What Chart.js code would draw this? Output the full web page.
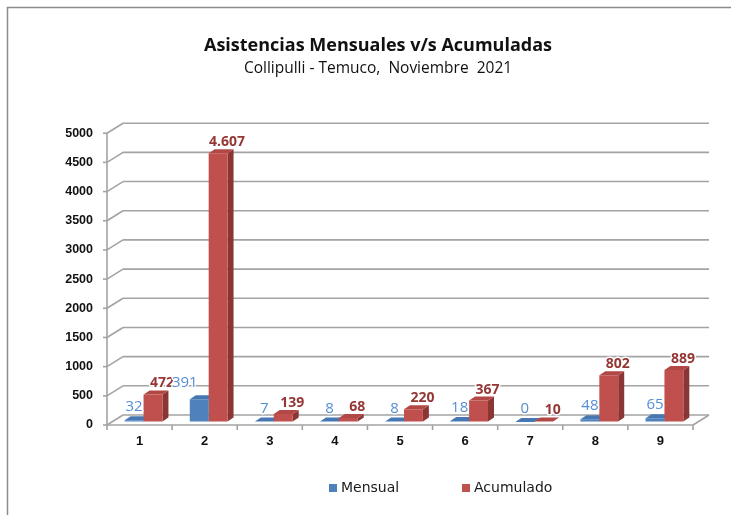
<!DOCTYPE html>
<html>
<head>
<meta charset="utf-8">
<script src="https://cdn.jsdelivr.net/npm/chart.js@4.4.0/dist/chart.umd.min.js"></script>
<style>
  html, body { margin: 0; padding: 0; background: #fff; }
</style>
</head>
<body>
<canvas id="asistencias" width="731" height="515"></canvas>
<script>
// Data
const categories = ['1', '2', '3', '4', '5', '6', '7', '8', '9'];
const mensual = [32, 391, 7, 8, 8, 18, 0, 48, 65];
const acumulado = [472, 4607, 139, 68, 220, 367, 10, 802, 889];
const yTicks = [0, 500, 1000, 1500, 2000, 2500, 3000, 3500, 4000, 4500, 5000];

// 3D look offsets (relative to the plane the bars are drawn in)
const FRONT = { dx: -4, dy: 3 };
const BACK = { dx: 12, dy: -7 };
const DEPTH = { dx: 6, dy: -4 };

const colors = {
    mensual: { face: '#4F81BD', side: '#36598A', top: '#4677B3', label: '#558ED5' },
    acumulado: { face: '#C0504D', side: '#8B3634', top: '#B24845', label: '#953735' }
};

// thousands with a dot, like 4.607
function fmt(v) {
    return String(v).replace(/\B(?=(\d{3})+(?!\d))/g, '.');
}

function line(ctx, x1, y1, x2, y2) {
    ctx.beginPath();
    ctx.moveTo(x1, y1);
    ctx.lineTo(x2, y2);
    ctx.stroke();
}

const threeD = {
    id: 'threeD',
    beforeDraw(chart) {
        const ctx = chart.ctx;
        ctx.save();
        ctx.fillStyle = '#fff';
        ctx.fillRect(0, 0, chart.width, chart.height);
        // outer frame of the chart object
        ctx.strokeStyle = '#8c8c8c';
        ctx.lineWidth = 1.5;
        ctx.strokeRect(7.5, 7.5, chart.width + 20, chart.height + 20);
        ctx.restore();
    },
    beforeDatasetsDraw(chart) {
        const ctx = chart.ctx;
        const { left, right } = chart.chartArea;
        const y = chart.scales.y;
        const x = chart.scales.x;
        ctx.save();
        ctx.strokeStyle = '#a3a3a3';
        ctx.lineWidth = 1.6;
        // back wall grid + side wall diagonals + ticks
        yTicks.forEach(v => {
            const py = y.getPixelForValue(v);
            const fx = left + FRONT.dx, fy = py + FRONT.dy;
            const bx = left + BACK.dx, by = py + BACK.dy;
            line(ctx, fx, fy, bx, by);
            line(ctx, bx, by, right + BACK.dx, by);
            line(ctx, fx - 4, fy, fx, fy);
        });
        const yTop = y.getPixelForValue(yTicks[yTicks.length - 1]);
        const y0 = y.getPixelForValue(0);
        // front vertical axis
        line(ctx, left + FRONT.dx, yTop + FRONT.dy, left + FRONT.dx, y0 + FRONT.dy);
        // floor: front edge and right edge
        line(ctx, left + FRONT.dx, y0 + FRONT.dy, right + FRONT.dx, y0 + FRONT.dy);
        line(ctx, right + FRONT.dx, y0 + FRONT.dy, right + BACK.dx, y0 + BACK.dy);
        // category tick marks on the floor edge
        const cw = x.width / categories.length;
        for (let i = 0; i <= categories.length; i++) {
            const px = x.left + i * cw + FRONT.dx;
            line(ctx, px, y0 + FRONT.dy, px, y0 + FRONT.dy + 5);
        }

        // side and top faces of every bar (front faces are drawn by Chart.js on top)
        chart.data.datasets.forEach((ds, di) => {
            const meta = chart.getDatasetMeta(di);
            const c = ds.key === 'mensual' ? colors.mensual : colors.acumulado;
            meta.data.forEach(bar => {
                const { x: bx, y: by, base, width } = bar.getProps(['x', 'y', 'base', 'width'], true);
                const l = bx - width / 2, r = bx + width / 2;
                ctx.fillStyle = c.side;
                ctx.beginPath();
                ctx.moveTo(r, by);
                ctx.lineTo(r + DEPTH.dx, by + DEPTH.dy);
                ctx.lineTo(r + DEPTH.dx, base + DEPTH.dy);
                ctx.lineTo(r, base);
                ctx.closePath();
                ctx.fill();
                ctx.fillStyle = c.top;
                ctx.beginPath();
                ctx.moveTo(l, by);
                ctx.lineTo(l + DEPTH.dx, by + DEPTH.dy);
                ctx.lineTo(r + DEPTH.dx, by + DEPTH.dy);
                ctx.lineTo(r, by);
                ctx.closePath();
                ctx.fill();
            });
        });
        ctx.restore();
    },
    afterDatasetsDraw(chart) {
        const ctx = chart.ctx;
        const metaM = chart.getDatasetMeta(0);
        const metaA = chart.getDatasetMeta(1);
        ctx.save();
        ctx.textAlign = 'center';
        ctx.textBaseline = 'middle';
        ctx.lineJoin = 'round';
        // Acumulado labels
        ctx.font = 'bold 14px "Open Sans"';
        metaA.data.forEach((bar, i) => {
            const t = fmt(acumulado[i]);
            const lx = bar.x + 9, ly = bar.y + DEPTH.dy / 2 - 9;
            ctx.strokeStyle = 'rgba(255,255,255,0.9)';
            ctx.lineWidth = 3;
            ctx.strokeText(t, lx, ly);
            ctx.fillStyle = colors.acumulado.label;
            ctx.fillText(t, lx, ly);
        });
        // Mensual labels, kept clear of the taller red bar next to them
        ctx.font = '15px "Open Sans"';
        metaM.data.forEach((bar, i) => {
            const t = fmt(mensual[i]);
            const w = ctx.measureText(t).width;
            let lx = bar.x,
                ly = bar.y + DEPTH.dy / 2 - 11;
            const red = metaA.data[i];
            const redLeft = red.x - red.width / 2;
            if (red.y < ly + 8 && lx + w / 2 > redLeft + 3) {
                lx = redLeft - 11 - w / 2;
                ly -= 3;
            }
            ctx.strokeStyle = 'rgba(255,255,255,0.9)';
            ctx.lineWidth = 3;
            ctx.strokeText(t, lx, ly);
            ctx.fillStyle = colors.mensual.label;
            ctx.fillText(t, lx, ly);
        });
        ctx.restore();
    },
    afterDraw(chart) {
        // legend
        const ctx = chart.ctx;
        const items = [
            { text: chart.data.datasets[0].label, color: colors.mensual.face, x: 329 },
            { text: chart.data.datasets[1].label, color: colors.acumulado.face, x: 462 }
        ];
        ctx.save();
        ctx.font = '14px "DejaVu Sans"';
        ctx.textBaseline = 'middle';
        items.forEach(it => {
            ctx.fillStyle = it.color;
            ctx.fillRect(it.x, 484, 8, 8);
            ctx.fillStyle = '#1a1a1a';
            ctx.fillText(it.text, it.x + 12, 488);
        });
        ctx.restore();
    }
};

const ctx = document.getElementById('asistencias').getContext('2d');
const chart = new Chart(ctx, {
    type: 'bar',
    data: {
        labels: categories,
        datasets: [
            { key: 'mensual', label: 'Mensual', data: mensual, backgroundColor: colors.mensual.face },
            { key: 'acumulado', label: 'Acumulado', data: acumulado, backgroundColor: colors.acumulado.face }
        ]
    },
    options: {
        responsive: false,
        animation: false,
        devicePixelRatio: 1,
        categoryPercentage: 0.58,
        barPercentage: 1,
        layout: { padding: { left: 59, right: 34, top: 35, bottom: 63 } },
        plugins: {
            legend: { display: false },
            tooltip: { enabled: false },
            title: {
                display: true,
                text: 'Asistencias Mensuales v/s Acumuladas',
                color: '#111',
                font: { family: 'Open Sans', size: 18, weight: 'bold' },
                padding: { top: 0, bottom: 3 }
            },
            subtitle: {
                display: true,
                text: 'Collipulli - Temuco,  Noviembre  2021',
                color: '#111',
                font: { family: 'Open Sans', size: 15.5 },
                padding: { top: 0, bottom: 52 }
            }
        },
        scales: {
            y: {
                min: 0,
                max: 5000,
                afterFit(scale) { scale.width = 52; },
                grid: { display: true, drawOnChartArea: false, drawTicks: false, color: 'rgba(0,0,0,0)' },
                border: { display: false },
                ticks: {
                    stepSize: 500,
                    padding: 18,
                    labelOffset: 3,
                    color: '#111',
                    callback: v => String(v),
                    font: { family: 'Liberation Sans', size: 12.5, weight: 'bold' }
                }
            },
            x: {
                afterFit(scale) { scale.height = 30; },
                grid: { display: true, drawOnChartArea: false, drawTicks: false, color: 'rgba(0,0,0,0)' },
                border: { display: false },
                ticks: {
                    padding: 12,
                    labelOffset: -4,
                    color: '#111',
                    font: { family: 'Liberation Sans', size: 13, weight: 'bold' }
                }
            }
        }
    },
    plugins: [threeD]
});
</script>
</body>
</html>
